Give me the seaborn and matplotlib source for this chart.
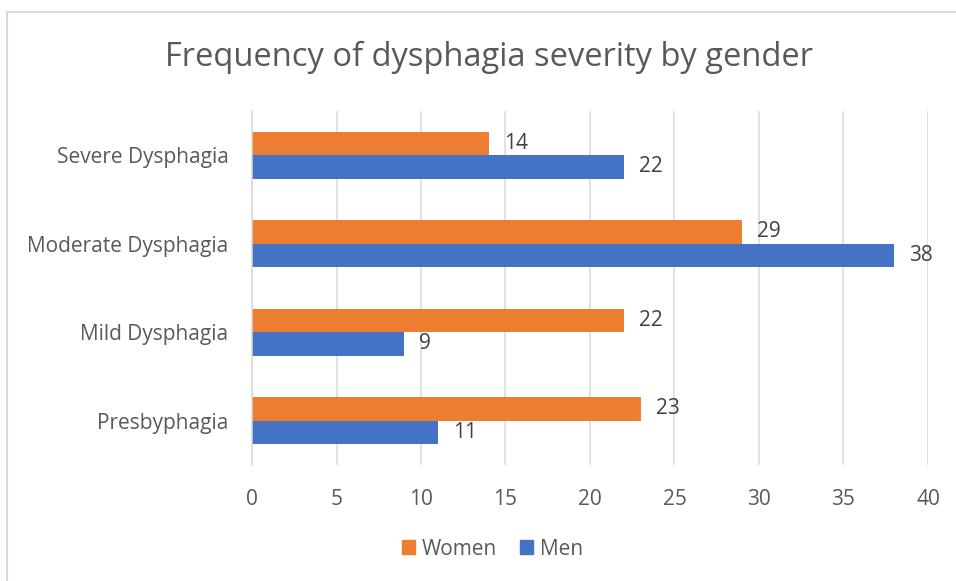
import pandas as pd
import matplotlib.pyplot as plt
import seaborn as sns
from matplotlib.patches import Rectangle

# 数据
categories = ['Severe Dysphagia', 'Moderate Dysphagia', 'Mild Dysphagia', 'Presbyphagia']
women = [14, 29, 22, 23]
men = [22, 38, 9, 11]
genders = ['Women', 'Men']
colors = {'Women': '#ED7D31', 'Men': '#4472C4'}

df = pd.DataFrame({
    'severity': categories * 2,
    'gender': ['Women'] * len(categories) + ['Men'] * len(categories),
    'count': women + men,
})

sns.set_theme(style='white')
plt.rcParams['font.family'] = ['Open Sans', 'DejaVu Sans']
text_color = '#595959'

fig = plt.figure(figsize=(9.56, 5.81), dpi=100)
ax = fig.add_axes([0.2636, 0.1997, 0.7071, 0.6093])

sns.barplot(data=df, y='severity', x='count', hue='gender', order=categories,
            hue_order=genders, palette=colors, orient='h', width=0.53,
            saturation=1, linewidth=0, ax=ax, legend=False)

for c in ax.containers:
    ax.bar_label(c, padding=11, fontsize=15, color='#404040')

ax.set_xlim(0, 40)
ax.set_xticks(range(0, 41, 5))
ax.grid(axis='x', color='#D9D9D9', linewidth=1.1)
ax.set_axisbelow(True)
for s in ['top', 'right', 'bottom']:
    ax.spines[s].set_visible(False)
ax.spines['left'].set_color('#D9D9D9')
ax.spines['left'].set_linewidth(1.1)
ax.set_xlabel('')
ax.set_ylabel('')
ax.tick_params(axis='both', length=0, labelsize=15, labelcolor=text_color)
ax.tick_params(axis='x', pad=17)
ax.tick_params(axis='y', pad=17)

fig.suptitle('Frequency of dysphagia severity by gender', x=0.511, y=0.93,
             fontsize=23.5, color=text_color)

# 图例
handles = [Rectangle((0, 0), 1, 1, color=colors[g]) for g in genders]
fig.legend(handles, genders, loc='center', bbox_to_anchor=(0.515, 0.055), ncol=2,
           frameon=False, fontsize=15, labelcolor=text_color, handlelength=0.65,
           handleheight=0.65, handletextpad=0.3, columnspacing=1.1)

# 外框
fig.patches.append(Rectangle((7 / 956, -0.1), 1.2, 1 - 12 / 581 + 0.1,
                             transform=fig.transFigure, fill=False,
                             edgecolor='#D9D9D9', linewidth=1.5))

fig.savefig('out.png', dpi=100)
